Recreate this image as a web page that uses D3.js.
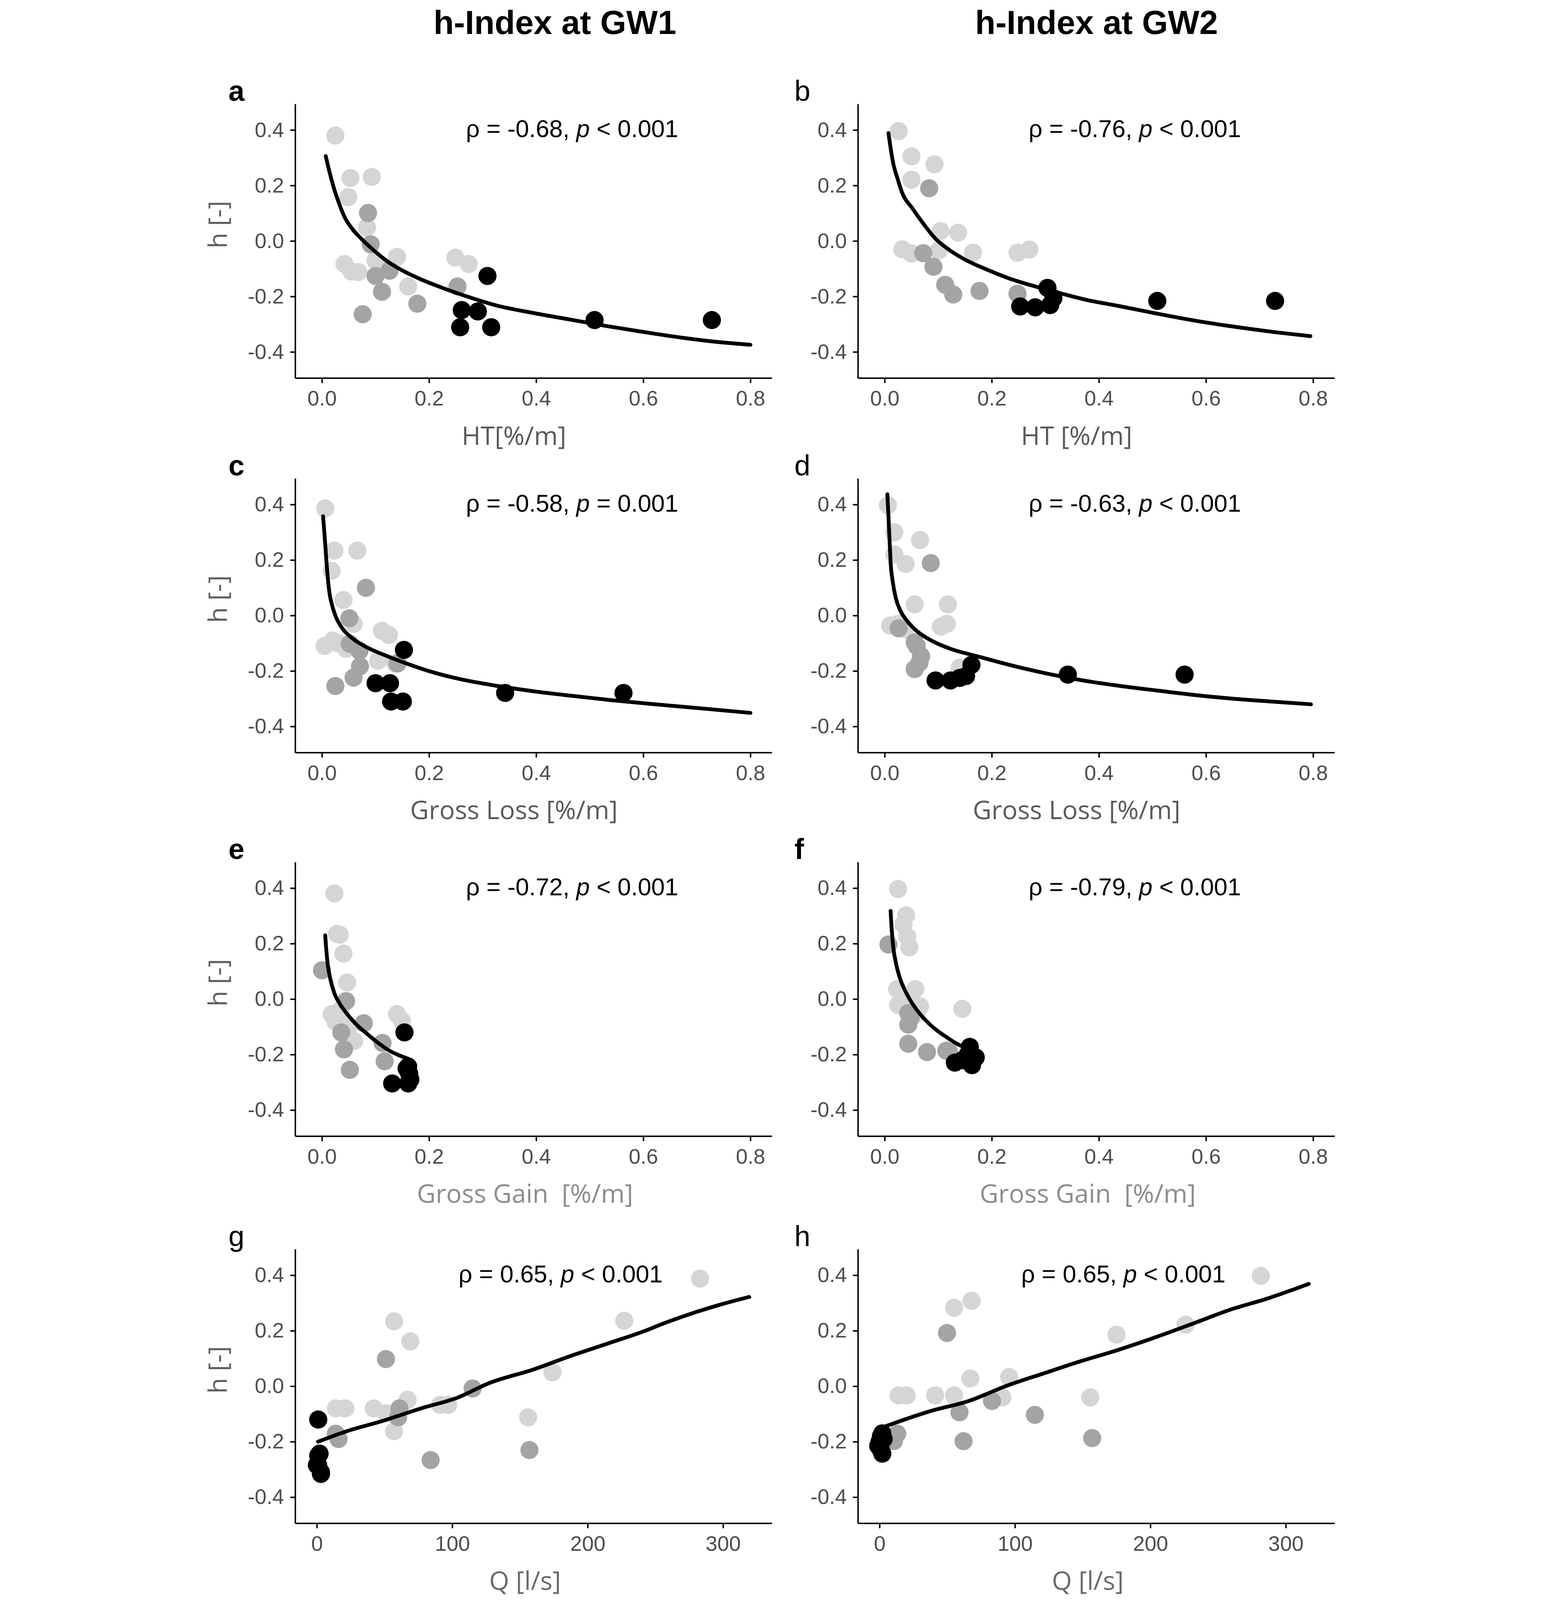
<!DOCTYPE html>
<html lang="en">
<head>
<meta charset="UTF-8">
<title>h-Index at GW1 and GW2</title>
<script src="https://d3js.org/d3.v7.min.js"></script>
<style>
  html, body { margin: 0; padding: 0; background: #fff; overflow: hidden; }
  svg { display: block; margin: 0 auto; }
  .tick text { font-family: "Liberation Sans", Arial, sans-serif; font-size: 72px; fill: #4d4d4d; }
  .tick line, .domain { stroke: #000; stroke-width: 5px; }
  .annot { font-family: "Liberation Sans", Arial, sans-serif; font-size: 83px; fill: #000; }
  .axis-title { font-family: "Open Sans", "Noto Sans", sans-serif; font-size: 88px; }
  .col-title { font-family: "Liberation Sans", Arial, sans-serif; font-size: 114px; font-weight: bold; }
  .panel-letter { font-family: "Liberation Sans", Arial, sans-serif; font-size: 98px; }
</style>
</head>
<body>
<div id="chart"></div>
<script>
// ---- data: [x, h] pairs per group ----
// a: HT vs h at GW1
const aLight = [[0.025,0.38],[0.053,0.227],[0.093,0.231],[0.049,0.158],[0.084,0.049],[0.042,-0.083],
  [0.068,-0.112],[0.055,-0.11],[0.14,-0.057],[0.1,-0.07],[0.115,-0.095],[0.161,-0.164],[0.249,-0.06],[0.274,-0.083]];
const aMid = [[0.086,0.101],[0.091,-0.012],[0.1,-0.126],[0.112,-0.183],[0.126,-0.107],[0.178,-0.226],[0.076,-0.264],[0.253,-0.164]];
const aBlack = [[0.309,-0.126],[0.261,-0.249],[0.291,-0.254],[0.258,-0.311],[0.316,-0.311],[0.509,-0.285],[0.728,-0.285]];
const aFit = [[0.007,0.306],[0.014,0.249],[0.022,0.192],[0.032,0.135],[0.042,0.087],[0.056,0.045],[0.074,0.007],
  [0.095,-0.031],[0.119,-0.069],[0.147,-0.103],[0.182,-0.136],[0.225,-0.169],[0.274,-0.202],[0.323,-0.231],
  [0.393,-0.259],[0.463,-0.283],[0.533,-0.307],[0.604,-0.329],[0.674,-0.349],[0.744,-0.365],[0.8,-0.374]];

// b: HT vs h at GW2
const bLight = [[0.026,0.396],[0.05,0.305],[0.093,0.276],[0.05,0.221],[0.104,0.036],[0.137,0.03],[0.033,-0.03],
  [0.05,-0.045],[0.101,-0.034],[0.165,-0.042],[0.248,-0.042],[0.27,-0.031]];
const bMid = [[0.083,0.19],[0.072,-0.044],[0.091,-0.093],[0.113,-0.158],[0.128,-0.193],[0.177,-0.18],[0.248,-0.19]];
const bBlack = [[0.304,-0.169],[0.253,-0.236],[0.281,-0.239],[0.309,-0.231],[0.315,-0.206],[0.509,-0.216],[0.729,-0.216]];
const bFit = [[0.007,0.389],[0.016,0.279],[0.024,0.225],[0.032,0.177],[0.052,0.117],[0.072,0.063],[0.094,0.01],
  [0.122,-0.034],[0.15,-0.067],[0.192,-0.104],[0.234,-0.136],[0.276,-0.161],[0.331,-0.19],[0.376,-0.212],
  [0.439,-0.235],[0.509,-0.262],[0.579,-0.287],[0.649,-0.308],[0.718,-0.326],[0.795,-0.343]];

// c: Gross Loss vs h at GW1
const cLight = [[0.006,0.386],[0.023,0.234],[0.066,0.234],[0.018,0.161],[0.04,0.056],[0.059,-0.03],[0.112,-0.055],
  [0.125,-0.07],[0.005,-0.11],[0.02,-0.09],[0.105,-0.163],[0.045,-0.12],[0.03,-0.1],[0.137,-0.173]];
const cMid = [[0.082,0.1],[0.051,-0.01],[0.052,-0.102],[0.07,-0.127],[0.071,-0.183],[0.059,-0.224],[0.025,-0.254],[0.141,-0.173]];
const cBlack = [[0.153,-0.124],[0.1,-0.244],[0.127,-0.244],[0.129,-0.31],[0.151,-0.31],[0.342,-0.279],[0.563,-0.279]];
const cFit = [[0.002,0.358],[0.005,0.285],[0.008,0.203],[0.011,0.132],[0.014,0.081],[0.019,0.036],[0.026,-0.005],
  [0.038,-0.046],[0.056,-0.081],[0.081,-0.112],[0.116,-0.142],[0.158,-0.173],[0.201,-0.201],[0.257,-0.229],
  [0.328,-0.254],[0.399,-0.274],[0.469,-0.29],[0.54,-0.305],[0.611,-0.318],[0.681,-0.33],[0.8,-0.351]];

// d: Gross Loss vs h at GW2
const dLight = [[0.006,0.398],[0.018,0.3],[0.066,0.272],[0.018,0.22],[0.039,0.186],[0.056,0.04],[0.118,0.04],
  [0.116,-0.03],[0.105,-0.04],[0.01,-0.036],[0.025,-0.03],[0.04,-0.05],[0.14,-0.188]];
const dMid = [[0.086,0.189],[0.026,-0.046],[0.056,-0.097],[0.06,-0.11],[0.068,-0.147],[0.056,-0.193],[0.065,-0.17]];
const dBlack = [[0.095,-0.234],[0.123,-0.234],[0.152,-0.218],[0.162,-0.178],[0.14,-0.225],[0.342,-0.213],[0.56,-0.213]];
const dFit = [[0.005,0.437],[0.007,0.356],[0.009,0.274],[0.011,0.193],[0.015,0.122],[0.021,0.061],[0.03,0.015],
  [0.042,-0.02],[0.06,-0.056],[0.088,-0.091],[0.123,-0.12],[0.173,-0.147],[0.229,-0.176],[0.3,-0.208],
  [0.37,-0.234],[0.44,-0.254],[0.511,-0.271],[0.581,-0.287],[0.652,-0.3],[0.722,-0.31],[0.796,-0.32]];

// e: Gross Gain vs h at GW1
const eLight = [[0.023,0.381],[0.033,0.232],[0.028,0.235],[0.04,0.164],[0.047,0.06],[0.018,-0.054],[0.03,-0.07],
  [0.035,-0.04],[0.06,-0.151],[0.14,-0.054],[0.149,-0.078],[0.05,-0.1],[0.025,-0.08]];
const eMid = [[0.0,0.104],[0.045,-0.007],[0.078,-0.087],[0.036,-0.12],[0.041,-0.181],[0.052,-0.255],[0.113,-0.158],[0.117,-0.224]];
const eBlack = [[0.154,-0.12],[0.161,-0.243],[0.131,-0.304],[0.161,-0.304],[0.163,-0.27],[0.158,-0.25],[0.165,-0.29]];
const eFit = [[0.006,0.23],[0.008,0.178],[0.011,0.121],[0.016,0.069],[0.023,0.022],[0.033,-0.016],[0.045,-0.049],
  [0.062,-0.087],[0.084,-0.125],[0.105,-0.158],[0.126,-0.186],[0.147,-0.205],[0.161,-0.215]];

// f: Gross Gain vs h at GW2
const fLight = [[0.025,0.397],[0.04,0.302],[0.035,0.27],[0.042,0.225],[0.046,0.187],[0.023,0.036],[0.057,0.036],
  [0.025,-0.021],[0.066,-0.026],[0.145,-0.035],[0.04,0.0],[0.06,-0.05]];
const fMid = [[0.007,0.197],[0.044,-0.05],[0.044,-0.092],[0.044,-0.161],[0.079,-0.191],[0.115,-0.186],[0.048,-0.07],[0.12,-0.19]];
const fBlack = [[0.131,-0.229],[0.159,-0.172],[0.166,-0.219],[0.163,-0.238],[0.155,-0.2],[0.17,-0.21],[0.145,-0.22]];
const fFit = [[0.011,0.318],[0.013,0.253],[0.016,0.187],[0.021,0.13],[0.028,0.078],[0.038,0.031],[0.05,-0.011],
  [0.064,-0.049],[0.081,-0.085],[0.099,-0.115],[0.117,-0.139],[0.135,-0.161],[0.145,-0.17]];

// g: Q vs h at GW1
const gLight = [[283,0.388],[227,0.236],[57,0.234],[69,0.162],[174,0.05],[14,-0.08],[21,-0.08],[42,-0.08],
  [67,-0.049],[51,-0.097],[91,-0.067],[97,-0.067],[156,-0.112],[57,-0.162]];
const gMid = [[51,0.098],[115,-0.008],[61,-0.08],[60,-0.112],[14,-0.171],[16,-0.19],[157,-0.23],[84,-0.266]];
const gBlack = [[1,-0.12],[2,-0.243],[1,-0.25],[0,-0.284],[1,-0.285],[3,-0.31],[3,-0.316]];
const gFit = [[0.8,-0.2],[21.5,-0.163],[49.2,-0.124],[76.8,-0.08],[104.4,-0.04],[126.5,0.01],[159.7,0.06],
  [187.3,0.109],[214.9,0.154],[242.5,0.2],[256.4,0.227],[297.8,0.294],[319.3,0.322]];

// h: Q vs h at GW2
const hLight = [[281.5,0.398],[55,0.283],[68,0.308],[175,0.186],[226,0.222],[67,0.028],[95.7,0.033],[14,-0.033],
  [20,-0.033],[41,-0.033],[55,-0.033],[90.7,-0.04],[155.6,-0.04]];
const hMid = [[49.8,0.192],[59,-0.094],[83,-0.053],[114.7,-0.103],[62,-0.198],[157,-0.187],[13,-0.171],[10.5,-0.198]];
const hBlack = [[1,-0.18],[-1,-0.215],[2,-0.243],[0,-0.2],[1,-0.23],[3,-0.19],[2,-0.17]];
const hFit = [[2.2,-0.148],[38,-0.089],[66,-0.053],[93.5,0.001],[121,0.046],[149,0.091],[171,0.123],
  [204,0.177],[232,0.227],[259,0.276],[287,0.317],[317,0.369]];

// ---- axes, labels ----
const fracTicks = [0, 0.2, 0.4, 0.6, 0.8];
const qTicks = [0, 100, 200, 300];
const hTicks = [-0.4, -0.2, 0.0, 0.2, 0.4];
const columnTitles = ['h-Index at GW1', 'h-Index at GW2'];
const rhoValues = ['-0.68', '-0.76', '-0.58', '-0.63', '-0.72', '-0.79', '0.65', '0.65'];
const pValues = ['< 0.001', '< 0.001', '= 0.001', '< 0.001', '< 0.001', '< 0.001', '< 0.001', '< 0.001'];

const panels = [
  { id: 'a', col: 0, row: 0, light: aLight, mid: aMid, black: aBlack, fit: aFit, q: false, xTitle: 'HT[%/m]', bold: true },
  { id: 'b', col: 1, row: 0, light: bLight, mid: bMid, black: bBlack, fit: bFit, q: false, xTitle: 'HT [%/m]', bold: false },
  { id: 'c', col: 0, row: 1, light: cLight, mid: cMid, black: cBlack, fit: cFit, q: false, xTitle: 'Gross Loss [%/m]', bold: true },
  { id: 'd', col: 1, row: 1, light: dLight, mid: dMid, black: dBlack, fit: dFit, q: false, xTitle: 'Gross Loss [%/m]', bold: false },
  { id: 'e', col: 0, row: 2, light: eLight, mid: eMid, black: eBlack, fit: eFit, q: false, xTitle: 'Gross Gain  [%/m]', bold: true },
  { id: 'f', col: 1, row: 2, light: fLight, mid: fMid, black: fBlack, fit: fFit, q: false, xTitle: 'Gross Gain  [%/m]', bold: true },
  { id: 'g', col: 0, row: 3, light: gLight, mid: gMid, black: gBlack, fit: gFit, q: true, xTitle: 'Q [l/s]', bold: false },
  { id: 'h', col: 1, row: 3, light: hLight, mid: hMid, black: hBlack, fit: hFit, q: true, xTitle: 'Q [l/s]', bold: false }
];

// ---- layout ----
const W = 4002, H = 5464;
const colX = [340, 2262];
const rowY = [355, 1634, 2944, 4266];
const plotW = 1628, plotH = 936;
const r = 31;
const groupColors = { light: '#d5d5d5', mid: '#a4a4a4', black: '#000000' };

// the window can be shorter than the figure: scale the whole figure down to fit, keeping its proportions
const fitScale = Math.min(1, window.innerWidth / W, window.innerHeight / H);

const svg = d3.select('#chart').append('svg')
  .attr('width', W * fitScale)
  .attr('height', H * fitScale)
  .attr('viewBox', `0 0 ${W} ${H}`)
  .style('background', '#fff');

// column titles
svg.selectAll('.col-title')
  .data(columnTitles)
  .join('text')
  .attr('class', 'col-title')
  .attr('x', (d, i) => [1227, 3077][i])
  .attr('y', 116)
  .attr('text-anchor', 'middle')
  .text(d => d);

panels.forEach((p, i) => {
  const g = svg.append('g')
    .attr('transform', `translate(${colX[p.col]}, ${rowY[p.row]})`);

  const x = d3.scaleLinear()
    .domain(p.q ? [-16, 336] : [-0.05, 0.84])
    .range([0, plotW]);
  const y = d3.scaleLinear()
    .domain([-0.494, 0.494])
    .range([plotH, 0]);

  // axes
  g.append('g')
    .call(d3.axisLeft(y).tickValues(hTicks).tickFormat(d => d.toFixed(1))
      .tickSize(17).tickSizeOuter(0).tickPadding(21))
    .call(ax => ax.attr('font-size', null).attr('font-family', null));

  g.append('g')
    .attr('transform', `translate(0, ${plotH})`)
    .call(d3.axisBottom(x).tickValues(p.q ? qTicks : fracTicks)
      .tickFormat(d => p.q ? d3.format('d')(d) : d.toFixed(1))
      .tickSize(17).tickSizeOuter(0).tickPadding(26))
    .call(ax => ax.attr('font-size', null).attr('font-family', null));

  // points: light, mid, black
  ['light', 'mid', 'black'].forEach(key => {
    g.append('g').selectAll('circle')
      .data(p[key])
      .join('circle')
      .attr('cx', d => x(d[0]))
      .attr('cy', d => y(d[1]))
      .attr('r', r)
      .attr('fill', groupColors[key]);
  });

  // fitted curve
  const line = d3.line()
    .x(d => x(d[0]))
    .y(d => y(d[1]))
    .curve(d3.curveMonotoneX);

  g.append('path')
    .datum(p.fit)
    .attr('d', line)
    .attr('fill', 'none')
    .attr('stroke', '#000')
    .attr('stroke-width', 13)
    .attr('stroke-linecap', 'round')
    .attr('stroke-linejoin', 'round');

  // correlation annotation
  const t = g.append('text')
    .attr('class', 'annot')
    .attr('x', x(p.q ? 180 : 0.467))
    .attr('y', 113)
    .attr('text-anchor', 'middle');
  t.append('tspan').text(`ρ = ${rhoValues[i]}, `);
  t.append('tspan').attr('font-style', 'italic').text('p');
  t.append('tspan').text(` ${pValues[i]}`);

  // x title
  const isGain = p.xTitle.startsWith('Gross Gain');
  const xTitleShift = isGain || p.q ? 785 : 747;
  const xTitleColor = isGain ? '#8c8c8c' : (p.q ? '#6a6a6a' : '#5a5a5a');
  g.append('text')
    .attr('class', 'axis-title')
    .attr('x', xTitleShift)
    .attr('y', plotH + 228)
    .attr('text-anchor', 'middle')
    .attr('fill', xTitleColor)
    .style('white-space', 'pre')
    .text(p.xTitle);

  // y title on the left column only
  if (p.col === 0) {
    g.append('text')
      .attr('class', 'axis-title')
      .attr('transform', `translate(${107 - colX[0]}, ${plotH / 2 - 56}) rotate(-90)`)
      .attr('text-anchor', 'middle')
      .attr('fill', '#5f5f5f')
      .text('h [-]');
  }

  // panel letter
  svg.append('text')
    .attr('class', 'panel-letter')
    .attr('x', p.col === 0 ? 112 : 2045)
    .attr('y', rowY[p.row] - 11)
    .attr('font-weight', p.bold ? 'bold' : 'normal')
    .text(p.id);
});
</script>
</body>
</html>
